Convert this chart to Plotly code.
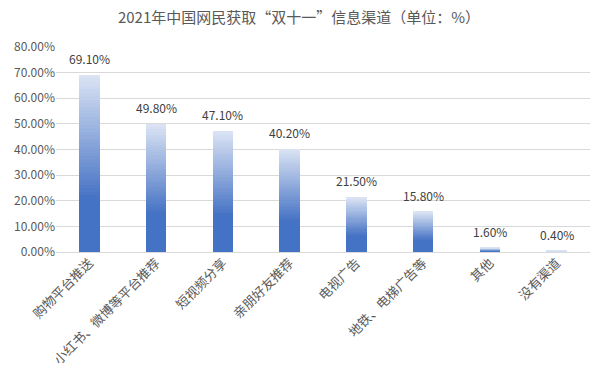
import plotly.graph_objects as go

categories = ["购物平台推送", "小红书、微博等平台推荐", "短视频分享", "亲朋好友推荐",
              "电视广告", "地铁、电梯广告等", "其他", "没有渠道"]
values = [69.1, 49.8, 47.1, 40.2, 21.5, 15.8, 1.6, 0.4]
title_text = "2021年中国网民获取“双十一”信息渠道（单位：%）"

FONT = "Microsoft YaHei, Noto Sans CJK SC, sans-serif"
light = (220, 228, 244)
dark = (68, 114, 196)
N = 50

def mix(t):
    # t: 0 at bottom, 1 at top
    f = min(1.0, max(0.0, (t - 0.3) / 0.7))
    c = [round(dark[i] + (light[i] - dark[i]) * f) for i in range(3)]
    return f"rgb({c[0]},{c[1]},{c[2]})"

fig = go.Figure()
for k in range(N):
    fig.add_trace(go.Bar(
        x=categories, y=[v / N for v in values],
        marker=dict(color=mix((k + 0.5) / N), line=dict(width=0)),
        showlegend=False, hoverinfo="skip"))

for c, v in zip(categories, values):
    fig.add_annotation(x=c, y=v, text=f"{v:.2f}%", showarrow=False,
                       yanchor="bottom", yshift=6,
                       font=dict(size=12, color="#404040", family=FONT))

fig.update_layout(
    barmode="stack", bargap=0.69,
    width=598, height=385,
    margin=dict(l=56, r=8, t=47, b=133),
    paper_bgcolor="white", plot_bgcolor="white",
    font=dict(family=FONT, color="#595959"),
    title=dict(text=title_text, x=0.5, xanchor="center", y=0.955, yanchor="middle",
               font=dict(size=15, color="#595959", family=FONT)),
    xaxis=dict(tickangle=-45, tickfont=dict(size=13, color="#595959"),
               showgrid=False, showline=False, ticks="", automargin=False),
    yaxis=dict(range=[0, 80], dtick=10, tickformat=".2f", ticksuffix="%",
               tickfont=dict(size=12, color="#595959"),
               showgrid=True, gridcolor="#d9d9d9", gridwidth=1,
               zeroline=True, zerolinecolor="#d9d9d9", zerolinewidth=1,
               showline=False, ticks="", automargin=False),
)

fig.write_html("out.html", config={"displayModeBar": False})
with open("out.html", encoding="utf-8") as f:
    html = f.read()
html = html.replace("<head>", "<head><style>html,body{margin:0;padding:0;overflow:hidden}</style>", 1)
with open("out.html", "w", encoding="utf-8") as f:
    f.write(html)
